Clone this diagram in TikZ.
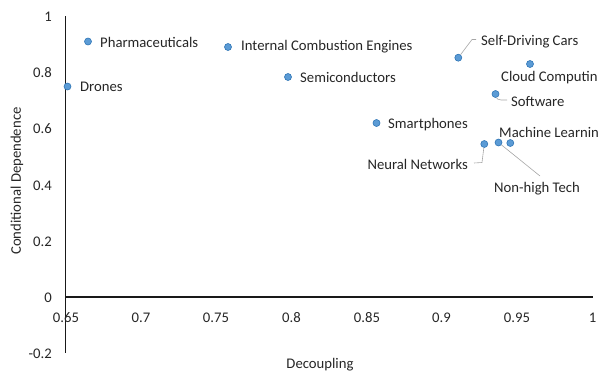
\documentclass[tikz,border=0pt]{standalone}
\usepackage{fontspec}
\setmainfont{Carlito}
\definecolor{dotfill}{HTML}{5B9BD5}
\definecolor{dotedge}{HTML}{2E75B6}
\definecolor{ink}{HTML}{262626}
\definecolor{leader}{HTML}{A6A6A6}
\begin{document}
\begin{tikzpicture}[x=1pt,y=-1pt,
  every node/.style={font=\fontsize{14.7}{17}\selectfont, text=ink},
  dot/.style={circle, fill=dotfill, draw=dotedge, line width=0.6pt, minimum size=7pt, inner sep=0pt},
  lbl/.style={inner sep=0pt, text height=10pt, text depth=0pt, anchor=west},
  lblr/.style={lbl, anchor=east},
  ytick/.style={inner sep=0pt, text height=10pt, text depth=0pt, anchor=east},
  xtick/.style={inner sep=0pt, text height=10pt, text depth=0pt, anchor=center},
  axisline/.style={line width=1.4pt, draw=black!90},
  leadline/.style={draw=leader, line width=0.6pt}]
\useasboundingbox (0,0) rectangle (599,378);
\clip (0,0) rectangle (599,378);

% axes
\coordinate (ytop) at (65.5,16);
\coordinate (ybot) at (65.5,353);
\coordinate (xl) at (65.5,297);
\coordinate (xr) at (593,297);
\draw[axisline] (ytop) -- (ybot);
\draw[axisline] (xl) -- (xr);

% y tick labels
\node[ytick] (y10) at (52,16)  {1};
\node[ytick] (y08) at (52,72)  {0.8};
\node[ytick] (y06) at (52,128) {0.6};
\node[ytick] (y04) at (52,185) {0.4};
\node[ytick] (y02) at (52,241) {0.2};
\node[ytick] (y00) at (52,297) {0};
\node[ytick] (ym2) at (52,353) {-0.2};

% x tick labels
\node[xtick] (x065) at (66,317)  {0.65};
\node[xtick] (x070) at (141,317) {0.7};
\node[xtick] (x075) at (216,317) {0.75};
\node[xtick] (x080) at (291.5,317) {0.8};
\node[xtick] (x085) at (367,317) {0.85};
\node[xtick] (x090) at (441.5,317) {0.9};
\node[xtick] (x095) at (517,317) {0.95};
\node[xtick] (x100) at (592.5,317) {1};

% axis titles
\node[rotate=90, inner sep=0pt] (ytitle) at (17,181) {Conditional Dependence};
\node[inner sep=0pt] (xtitle) at (320,365) {Decoupling};

% data points
\node[dot] (drones)   at (67.5,86.5) {};
\node[dot] (pharma)   at (88,41.5) {};
\node[dot] (ice)      at (228,47) {};
\node[dot] (semi)     at (288,77) {};
\node[dot] (sdc)      at (458.3,57.7) {};
\node[dot] (cloud)    at (530,64) {};
\node[dot] (software) at (495.5,94) {};
\node[dot] (smart)    at (376.5,123) {};
\node[dot] (nn)       at (484.3,144) {};
\node[dot] (nht)      at (498.5,142.5) {};
\node[dot] (ml)       at (510.3,143) {};

% labels
\node[lbl] (ldrones) at (80,86)   {Drones};
\node[lbl] (lpharma) at (100,42)  {Pharmaceuticals};
\node[lbl] (lice)    at (241,45)  {Internal Combustion Engines};
\node[lbl] (lsemi)   at (300,77)  {Semiconductors};
\node[lbl] (lsdc)    at (481,40)  {Self-Driving Cars};
\node[lbl] (lcloud)  at (501,76)  {Cloud Computin};
\node[lbl] (lsoft)   at (511,101) {Software};
\node[lbl] (lsmart)  at (388,123) {Smartphones};
\node[lbl] (lml)     at (499,132) {Machine Learnin};
\node[lblr] (lnn)    at (468,164) {Neural Networks};
\node[lbl] (lnht)    at (494,187) {Non-high Tech};

% leader lines
\coordinate (sdcbend) at (472,39.5);
\coordinate (sdcend)  at (476,39.5);
\draw[leadline] (sdc) -- (sdcbend) -- (sdcend);
\coordinate (softbend) at (501,100);
\coordinate (softend)  at (507,100);
\draw[leadline] (software) .. controls (497,99) .. (softbend) -- (softend);
\coordinate (nnbend) at (482,162.5);
\coordinate (nnend)  at (474,163);
\draw[leadline] (nn) -- (nnbend) -- (nnend);
\coordinate (nhtend) at (540,176);
\draw[leadline] (nht) -- (nhtend);
\end{tikzpicture}
\end{document}
